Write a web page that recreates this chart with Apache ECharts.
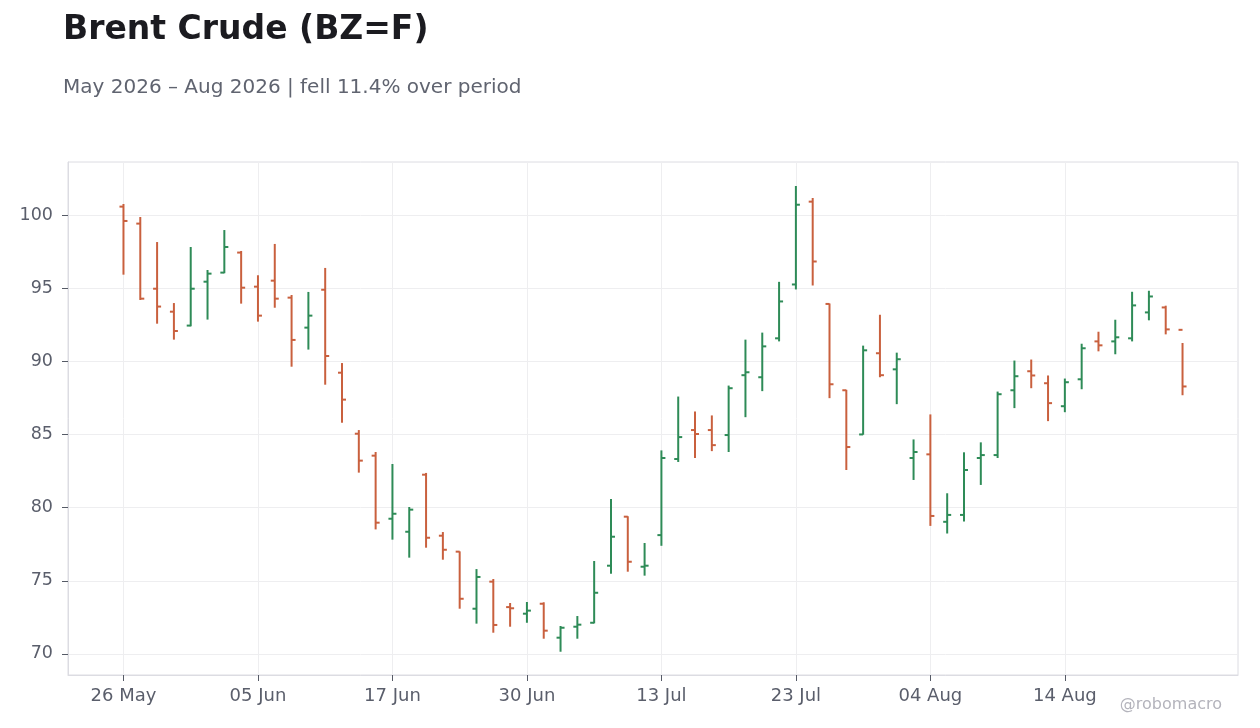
<!DOCTYPE html>
<html>
<head>
<meta charset="utf-8">
<title>Brent Crude (BZ=F)</title>
<script src="https://cdn.jsdelivr.net/npm/echarts@6/dist/echarts.min.js"></script>
<style>
  html, body { margin: 0; padding: 0; background: #fff; }
  #chart { width: 1260px; height: 728px; }
</style>
</head>
<body>
<div id="chart"></div>
<script>
// trading days, 26 May - 25 Aug 2026
const dates = [
    '26 May', '27 May', '28 May', '29 May', '01 Jun', '02 Jun', '03 Jun', '04 Jun',
    '05 Jun', '08 Jun', '09 Jun', '10 Jun', '11 Jun', '12 Jun', '15 Jun', '16 Jun',
    '17 Jun', '18 Jun', '22 Jun', '23 Jun', '24 Jun', '25 Jun', '26 Jun', '29 Jun',
    '30 Jun', '01 Jul', '02 Jul', '06 Jul', '07 Jul', '08 Jul', '09 Jul', '10 Jul',
    '13 Jul', '14 Jul', '15 Jul', '16 Jul', '17 Jul', '20 Jul', '21 Jul', '22 Jul',
    '23 Jul', '24 Jul', '27 Jul', '28 Jul', '29 Jul', '30 Jul', '31 Jul', '03 Aug',
    '04 Aug', '05 Aug', '06 Aug', '07 Aug', '10 Aug', '11 Aug', '12 Aug', '13 Aug',
    '14 Aug', '17 Aug', '18 Aug', '19 Aug', '20 Aug', '21 Aug', '24 Aug', '25 Aug'
];
const opens = [
    100.57, 99.41, 94.96, 93.39, 92.44, 95.44, 96.06, 97.43,
    95.10, 95.51, 94.35, 92.30, 94.89, 89.22, 85.05, 83.55,
    79.24, 78.35, 82.25, 78.08, 76.99, 73.09, 74.94, 73.20,
    72.75, 73.43, 71.11, 71.86, 72.13, 76.03, 79.38, 75.96,
    78.12, 83.32, 85.30, 85.30, 84.96, 89.05, 88.91, 91.57,
    95.25, 100.91, 93.92, 88.02, 85.00, 90.55, 89.45, 83.39,
    83.64, 79.03, 79.50, 83.39, 83.59, 88.02, 89.32, 88.50,
    86.93, 88.77, 91.36, 91.36, 91.57, 93.34, 93.68, 92.15
];
const highs = [
    100.75, 99.86, 98.15, 93.98, 97.81, 96.24, 98.97, 97.54,
    95.88, 98.02, 94.53, 94.74, 96.38, 89.88, 85.30, 83.80,
    82.98, 80.04, 82.37, 78.33, 77.01, 75.80, 75.12, 73.48,
    73.55, 73.53, 71.91, 72.59, 76.35, 80.59, 79.41, 77.58,
    83.91, 87.59, 86.57, 86.30, 88.34, 91.48, 91.96, 95.43,
    101.98, 101.16, 93.95, 88.05, 91.07, 93.18, 90.59, 84.66,
    86.37, 80.98, 83.78, 84.46, 87.93, 90.05, 90.12, 89.03,
    88.82, 91.20, 92.02, 92.84, 94.75, 94.82, 93.80, 91.25
];
const lows = [
    95.92, 94.19, 92.57, 91.48, 92.39, 92.85, 96.02, 93.94,
    92.71, 93.66, 89.63, 90.80, 88.40, 85.80, 82.39, 78.51,
    77.81, 76.58, 77.26, 76.44, 73.09, 72.07, 71.45, 71.86,
    72.13, 71.04, 70.15, 71.04, 72.09, 75.48, 75.62, 75.35,
    77.39, 83.12, 83.39, 83.86, 83.80, 86.18, 87.96, 91.36,
    94.91, 95.18, 87.48, 82.57, 84.98, 88.91, 87.07, 81.89,
    78.75, 78.23, 79.05, 81.55, 83.39, 86.80, 88.16, 85.91,
    86.52, 88.09, 90.68, 90.48, 91.36, 92.80, 91.84, 87.68
];
const closes = [
    99.59, 94.28, 93.74, 92.07, 94.96, 95.99, 97.81, 95.03,
    93.12, 94.28, 91.46, 93.12, 90.36, 87.38, 83.21, 78.97,
    79.58, 79.86, 77.94, 77.12, 73.77, 75.26, 71.98, 73.12,
    72.96, 71.59, 71.79, 72.00, 74.18, 78.01, 76.30, 76.03,
    83.39, 84.82, 85.03, 84.27, 88.16, 89.25, 91.02, 94.09,
    100.70, 96.82, 88.43, 84.14, 90.75, 89.05, 90.14, 83.80,
    79.43, 79.50, 82.57, 83.59, 87.75, 88.98, 89.03, 87.14,
    88.57, 90.89, 91.09, 91.64, 93.82, 94.43, 92.18, 88.28
];
const xTickIdx = [0, 8, 16, 24, 32, 40, 48, 56];
const yTicks = [70, 75, 80, 85, 90, 95, 100];

const UP = '#2e8b57';
const DOWN = '#c9603e';
const GRID_LINE = '#eeeef0';
const LABEL = '#5a5e6b';
const TICK = '#555a66';

const rows = dates.map((d, i) => [i, opens[i], closes[i], lows[i], highs[i]]);

const chart = echarts.init(document.getElementById('chart'));

// OHLC bar: high-low stick, open tick to the left, close tick to the right
function renderOhlc(params, api) {
    const x = api.value(0);
    const open = api.value(1);
    const close = api.value(2);
    const low = api.value(3);
    const high = api.value(4);
    const color = close >= open ? UP : DOWN;
    const pH = api.coord([x, high]);
    const pL = api.coord([x, low]);
    const pO = api.coord([x, open]);
    const pC = api.coord([x, close]);
    const style = { stroke: color, lineWidth: 2 };
    return {
        type: 'group',
        children: [
            { type: 'line', shape: { x1: pH[0], y1: pH[1], x2: pL[0], y2: pL[1] }, style: style },
            { type: 'line', shape: { x1: pO[0] - 4, y1: pO[1], x2: pO[0], y2: pO[1] }, style: style },
            { type: 'line', shape: { x1: pC[0], y1: pC[1], x2: pC[0] + 4, y2: pC[1] }, style: style }
        ]
    };
}

chart.setOption({
    backgroundColor: '#fff',
    animation: false,
    textStyle: { fontFamily: 'DejaVu Sans' },
    title: [{
        text: 'Brent Crude (BZ=F)',
        left: 58,
        top: 9,
        textStyle: { fontSize: 33, fontWeight: 'bold', color: '#1b1b20', fontFamily: 'DejaVu Sans' }
    }, {
        text: 'May 2026 – Aug 2026 | fell 11.4% over period',
        left: 58,
        top: 73,
        textStyle: { fontSize: 20, fontWeight: 'normal', color: '#606470', fontFamily: 'DejaVu Sans' }
    }],
    graphic: [{
        type: 'text',
        right: 38,
        top: 697,
        style: { text: '@robomacro', fill: '#b4b4bc', font: '16px "DejaVu Sans"' }
    }],
    grid: {
        left: 68,
        right: 22,
        top: 162,
        bottom: 53,
        show: true,
        borderColor: '#dcdce2',
        borderWidth: 1
    },
    xAxis: {
        type: 'value',
        min: -3.3,
        max: 66.3,
        axisLine: { show: true, onZero: false, lineStyle: { color: '#dcdce2' } },
        axisTick: { show: true, customValues: xTickIdx, length: 6, lineStyle: { color: TICK } },
        axisLabel: {
            customValues: xTickIdx,
            formatter: v => dates[Math.round(v)] || '',
            color: LABEL,
            fontSize: 18,
            margin: 12
        },
        splitLine: { show: true, lineStyle: { color: GRID_LINE } }
    },
    yAxis: {
        type: 'value',
        min: 68.56,
        max: 103.62,
        axisLine: { show: true, onZero: false, lineStyle: { color: '#dcdce2' } },
        axisTick: { show: true, customValues: yTicks, length: 6, lineStyle: { color: TICK } },
        axisLabel: {
            customValues: yTicks,
            color: LABEL,
            fontSize: 17.5,
            margin: 15
        },
        splitLine: { show: true, lineStyle: { color: GRID_LINE } }
    },
    series: [{
        name: 'BZ=F',
        type: 'custom',
        renderItem: renderOhlc,
        dimensions: ['idx', 'open', 'close', 'low', 'high'],
        encode: { x: 0, y: [1, 2, 3, 4] },
        data: rows,
        clip: true
    }]
});
</script>
</body>
</html>
